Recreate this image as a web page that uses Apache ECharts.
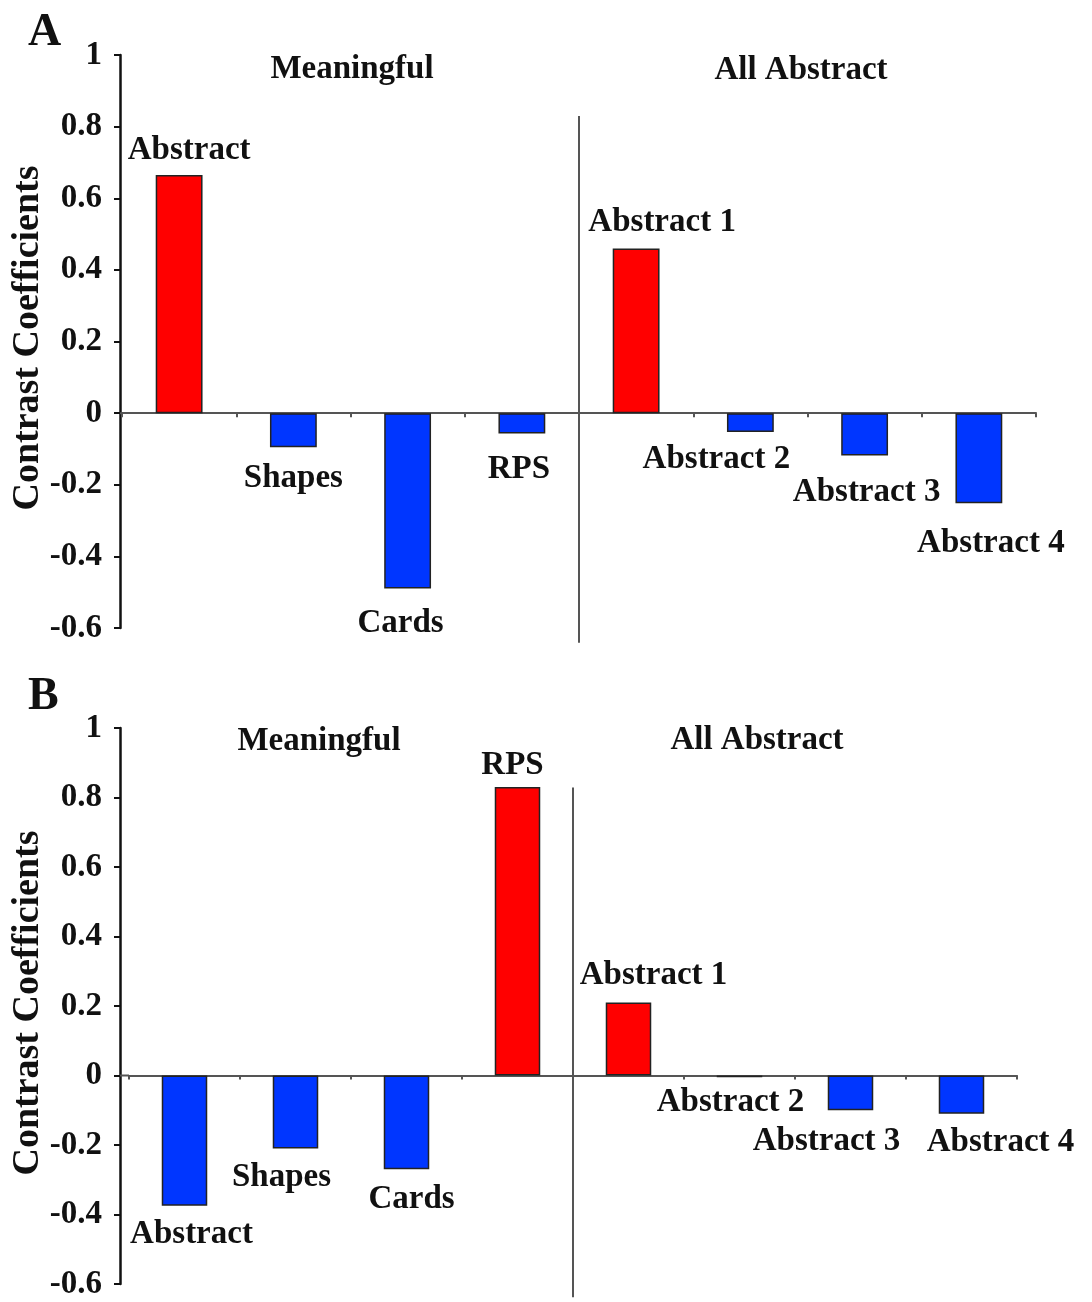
<!DOCTYPE html>
<html>
<head>
<meta charset="utf-8">
<script src="https://cdn.jsdelivr.net/npm/echarts@6/dist/echarts.min.js"></script>
<style>
html,body{margin:0;padding:0;background:#fff;}
#chart{width:1092px;height:1302px;}
</style>
</head>
<body>
<div id="chart"></div>
<script>
// ---- data ----
const categories = ['Abstract', 'Shapes', 'Cards', 'RPS', 'Abstract 1', 'Abstract 2', 'Abstract 3', 'Abstract 4'];
const panelAValues = [0.665, -0.095, -0.49, -0.057, 0.46, -0.053, -0.118, -0.252];
const panelBValues = [-0.375, -0.21, -0.27, 0.83, 0.21, -0.005, -0.10, -0.11];
const groupNames = ['Meaningful', 'All Abstract'];
const panelLetters = ['A', 'B'];
const yAxisTitle = 'Contrast Coefficients';

// ---- styling / layout (not data) ----
const FONT = '"Liberation Serif", "Times New Roman", serif';
const POS = '#FF0000', NEG = '#0036FF';
const grids = [
  { left: 122, top: 55, width: 914, height: 573 },
  { left: 129, top: 728, width: 888, height: 556 }
];
const yOffsets = [2, 9];
// per-label [horizontal shift, distance from bar end]
const labelShift = [
  [[10, 8], [0, 15], [-7, 18], [-3, 19], [26, 9], [-34, 11], [2, 21], [12, 24]],
  [[7, 12], [-14, 12], [5, 14], [-5, 5], [25, 11], [-9, 9], [-24, 15], [39, 12]]
];
const dividerSpan = [[0.83, -0.641], [0.829, -0.638]];
const groupTitlePos = [
  [[352, 69], [801, 70]],
  [[319, 741], [757, 740]]
];
const yTitlePos = [[28, 338], [28, 1003]];
const letterPos = [[28, 10], [28, 674]];

const valuesByPanel = [panelAValues, panelBValues];

const chart = echarts.init(document.getElementById('chart'), null, { renderer: 'canvas' });

const xAxes = grids.map((g, i) => ({
  type: 'category',
  gridIndex: i,
  data: categories,
  boundaryGap: true,
  axisLabel: { show: false },
  axisLine: { show: true, onZero: true, lineStyle: { color: '#555', width: 2 } },
  axisTick: { show: true, interval: 0, length: 4, lineStyle: { color: '#555', width: 2 } },
  splitLine: { show: false }
}));

const yAxes = grids.map((g, i) => ({
  type: 'value',
  gridIndex: i,
  offset: yOffsets[i],
  min: -0.6,
  max: 1,
  interval: 0.2,
  splitLine: { show: false },
  axisLine: { show: true, lineStyle: { color: '#111', width: 2.5 } },
  axisTick: { show: true, length: 6, lineStyle: { color: '#111', width: 2 } },
  axisLabel: {
    margin: 18, color: '#111', fontFamily: FONT, fontWeight: 'bold', fontSize: 33,
    formatter: v => String(Math.round(v * 10) / 10)
  }
}));

const series = valuesByPanel.map((vals, i) => ({
  type: 'bar',
  xAxisIndex: i,
  yAxisIndex: i,
  barWidth: '41%',
  data: vals.map((v, k) => ({
    value: v,
    itemStyle: { color: v >= 0 ? POS : NEG },
    label: {
      position: v >= 0 ? 'top' : 'bottom',
      distance: labelShift[i][k][1],
      offset: [labelShift[i][k][0], 0]
    }
  })),
  itemStyle: { borderColor: '#222', borderWidth: 1.5 },
  label: {
    show: true,
    formatter: '{b}',
    fontFamily: FONT,
    fontWeight: 'bold',
    fontSize: 33,
    lineHeight: 33,
    color: '#111'
  },
  animation: false
}));

const graphics = [];
panelLetters.forEach((t, i) => {
  graphics.push({
    type: 'text', id: 'letter' + i, left: letterPos[i][0], top: letterPos[i][1],
    style: { text: t, font: 'bold 46px ' + FONT, fill: '#111' }
  });
  graphics.push({
    type: 'text', id: 'ytitle' + i, x: yTitlePos[i][0], y: yTitlePos[i][1], rotation: Math.PI / 2,
    style: { text: yAxisTitle, font: 'bold 38px ' + FONT, fill: '#111', align: 'center', verticalAlign: 'middle' }
  });
});
groupTitlePos.forEach((pair, i) => {
  pair.forEach((p, j) => {
    graphics.push({
      type: 'text', id: 'grp' + i + '_' + j, x: p[0], y: p[1],
      style: { text: groupNames[j], font: 'bold 33px ' + FONT, fill: '#111', align: 'center', verticalAlign: 'middle' }
    });
  });
});

chart.setOption({
  backgroundColor: '#fff',
  animation: false,
  grid: grids.map(g => Object.assign({ containLabel: false, outerBoundsMode: 'none' }, g)),
  xAxis: xAxes,
  yAxis: yAxes,
  series: series,
  graphic: graphics
});

// divider line between the two groups, and the zero line joined to the offset y-axis
const extra = [];
[0, 1].forEach(i => {
  const xa = chart.convertToPixel({ xAxisIndex: i }, categories[3]);
  const xb = chart.convertToPixel({ xAxisIndex: i }, categories[4]);
  const x = (xa + xb) / 2;
  const y1 = chart.convertToPixel({ yAxisIndex: i }, dividerSpan[i][0]);
  const y2 = chart.convertToPixel({ yAxisIndex: i }, dividerSpan[i][1]);
  extra.push({
    type: 'line', id: 'div' + i, z: 10,
    shape: { x1: x, y1: y1, x2: x, y2: y2 },
    style: { stroke: '#555', lineWidth: 2 }
  });
  const y0 = chart.convertToPixel({ yAxisIndex: i }, 0);
  extra.push({
    type: 'line', id: 'zero' + i, z: 10,
    shape: { x1: grids[i].left - yOffsets[i], y1: y0, x2: grids[i].left, y2: y0 },
    style: { stroke: '#555', lineWidth: 2 }
  });
});
chart.setOption({ graphic: graphics.concat(extra) });
</script>
</body>
</html>
